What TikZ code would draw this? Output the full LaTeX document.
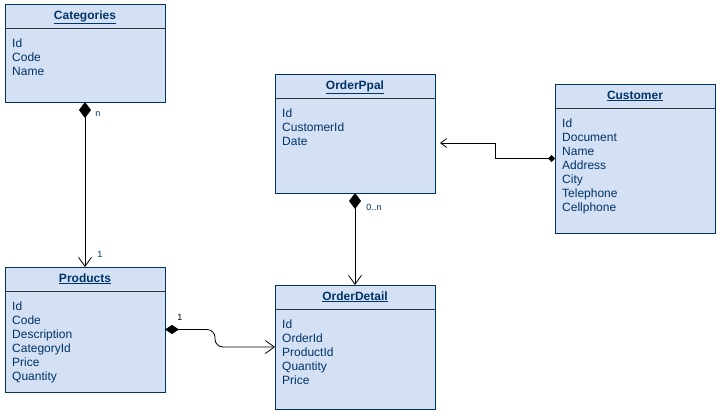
\documentclass[tikz,border=0pt]{standalone}
\usepackage{fontspec}
\setmainfont{Liberation Sans}
\usetikzlibrary{arrows.meta}
\definecolor{Fill}{HTML}{D4E1F5}
\definecolor{Navy}{HTML}{003366}
\definecolor{Rule}{HTML}{333333}

\tikzset{
  cls/.style={draw=Navy,fill=Fill,line width=1pt,minimum width=160pt,inner sep=0pt,outer sep=0pt,anchor=north west},
  clstitle/.style={font=\fontsize{12}{14}\selectfont\bfseries,text=Navy,inner sep=0pt,anchor=base},
  attr/.style={font=\fontsize{12}{14}\selectfont,text=Navy,inner sep=0pt,anchor=base west},
  conn/.style={draw=black,line width=0.8pt},
  mult/.style={font=\fontsize{9}{11}\selectfont,text=Navy,inner sep=0pt}
}

% name, x, y, height, title, attributes
\newcommand\umlclass[6]{%
  \node[cls,minimum height=#4pt] (#1) at (#2,#3) {};
  \draw[Rule,line width=0.9pt] ([yshift=-24pt]#1.north west) -- ([yshift=-24pt]#1.north east);
  \node[clstitle] (#1-title) at ([yshift=-15pt]#1.north) {\underline{#5}};
  \foreach \f [count=\i] in {#6}
    \node[attr] (#1-a\i) at ([xshift=7pt,yshift={-43pt-14pt*(\i-1)}]#1.north west) {\f};
}

\begin{document}
\begin{tikzpicture}[x=1pt,y=-1pt]
\fill[white] (0,0) rectangle (723,418);
\useasboundingbox (0,0) rectangle (723,418);

\umlclass{cat}{5}{4}{98}{Categories}{Id,Code,Name}
\umlclass{op}{275}{74}{119}{OrderPpal}{Id,CustomerId,Date}
\umlclass{cust}{555}{84}{149}{Customer}{Id,Document,Name,Address,City,Telephone,Cellphone}
\umlclass{prod}{5}{267}{125}{Products}{Id,Code,Description,CategoryId,Price,Quantity}
\umlclass{od}{275}{285}{124}{OrderDetail}{Id,OrderId,ProductId,Quantity,Price}

% connectors
\draw[conn,{Diamond[length=16pt,width=12pt]}-{Straight Barb[length=9pt,width=13pt]}] (cat.south) -- (prod.north);
\draw[conn,{Diamond[length=16pt,width=12pt]}-{Straight Barb[length=9pt,width=13pt]}] (op.south) -- (od.north);
\draw[conn,shorten >=5pt,{Diamond[length=7pt,width=7pt]}-{Straight Barb[length=6pt,width=9pt]}] (cust.west) -- ++(-60,0) |- ([yshift=-9.5pt]op.east);
\draw[conn,rounded corners=8pt,{Diamond[length=14pt,width=9pt]}-{Straight Barb[length=9pt,width=13pt]}] (prod.east) -- ++(50,0) |- (od.west);

% multiplicities
\node[mult] (m-n) at (98,114) {n};
\node[mult] (m-1) at (100,254) {1};
\node[mult] (m-0n) at (374,207) {0..n};
\node[mult,text=black] (m-p1) at (180,317) {1};
\end{tikzpicture}
\end{document}
